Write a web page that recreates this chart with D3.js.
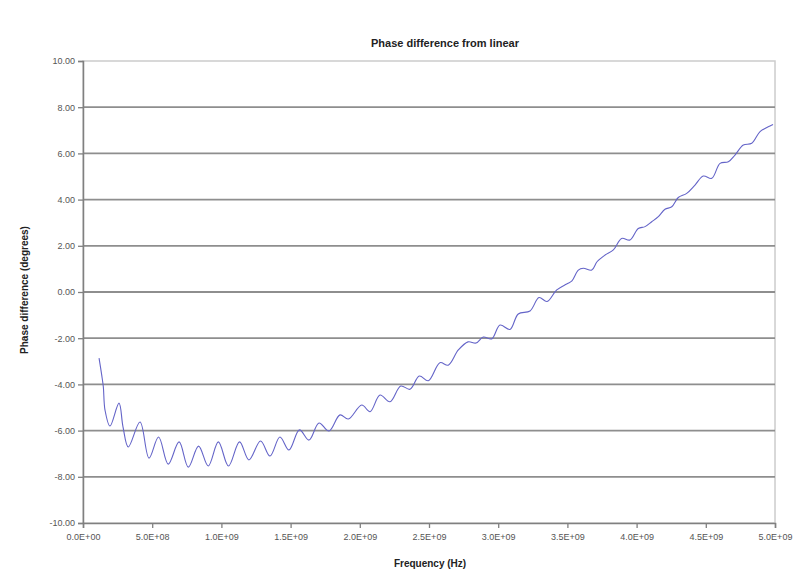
<!DOCTYPE html>
<html>
<head>
<meta charset="utf-8">
<script src="https://cdn.jsdelivr.net/npm/d3@7"></script>
<style>
  html, body { margin: 0; padding: 0; background: #fff; }
  svg { display: block; font-family: "Liberation Sans", Arial, sans-serif; }
</style>
</head>
<body>
<svg id="chart" width="809" height="573"></svg>
<script>
// ---- data (frequency in Hz, phase difference in degrees) ----
const frequency = [
  0.116e9, 0.135e9, 0.147e9, 0.159e9, 0.195e9, 0.260e9, 0.289e9, 0.327e9, 0.412e9, 0.477e9,
  0.546e9, 0.616e9, 0.694e9, 0.761e9, 0.835e9, 0.905e9, 0.978e9, 1.051e9, 1.131e9, 1.199e9,
  1.283e9, 1.351e9, 1.423e9, 1.488e9, 1.564e9, 1.633e9, 1.705e9, 1.777e9, 1.857e9, 1.917e9,
  2.014e9, 2.074e9, 2.146e9, 2.218e9, 2.296e9, 2.363e9, 2.430e9, 2.495e9, 2.579e9, 2.639e9,
  2.712e9, 2.782e9, 2.840e9, 2.892e9, 2.953e9, 3.013e9, 3.085e9, 3.145e9, 3.230e9, 3.295e9,
  3.353e9, 3.423e9, 3.495e9, 3.533e9, 3.579e9, 3.615e9, 3.676e9, 3.714e9, 3.772e9, 3.832e9,
  3.892e9, 3.952e9, 4.012e9, 4.061e9, 4.109e9, 4.157e9, 4.205e9, 4.254e9, 4.301e9, 4.362e9,
  4.422e9, 4.482e9, 4.543e9, 4.603e9, 4.663e9, 4.711e9, 4.771e9, 4.832e9, 4.892e9, 4.964e9,
  4.986e9
];
const phaseDiff = [
  -2.86, -3.59, -4.11, -5.11, -5.80, -4.81, -5.84, -6.71, -5.63, -7.19,
  -6.28, -7.45, -6.49, -7.58, -6.67, -7.53, -6.49, -7.53, -6.49, -7.27,
  -6.45, -7.10, -6.28, -6.84, -5.97, -6.41, -5.67, -6.02, -5.32, -5.50,
  -4.89, -5.18, -4.46, -4.75, -4.07, -4.21, -3.64, -3.84, -3.06, -3.17,
  -2.51, -2.16, -2.21, -1.95, -2.03, -1.43, -1.62, -0.95, -0.82, -0.24,
  -0.41, 0.09, 0.35, 0.48, 0.95, 1.03, 0.95, 1.31, 1.60, 1.82,
  2.32, 2.25, 2.75, 2.83, 3.04, 3.26, 3.58, 3.69, 4.09, 4.27,
  4.63, 5.02, 4.92, 5.57, 5.64, 5.93, 6.36, 6.44, 6.94, 7.19,
  7.25
];
const xTicks = [0, 5e8, 1e9, 1.5e9, 2e9, 2.5e9, 3e9, 3.5e9, 4e9, 4.5e9, 5e9];
const yTicks = [-10, -8, -6, -4, -2, 0, 2, 4, 6, 8, 10];

const titleText = "Phase difference from linear";
const xTitle = "Frequency (Hz)";
const yTitle = "Phase difference (degrees)";

// ---- layout ----
const svg = d3.select("#chart");
const plot = { left: 83, right: 775, top: 61, bottom: 523 };

const x = d3.scaleLinear().domain([0, 5e9]).range([plot.left, plot.right]);
const y = d3.scaleLinear().domain([-10, 10]).range([plot.bottom, plot.top]);

function sciFmt(v) {
  if (v === 0) return "0.0E+00";
  const e = Math.floor(Math.log10(Math.abs(v)) + 1e-9);
  const m = v / Math.pow(10, e);
  return m.toFixed(1) + "E+" + String(e).padStart(2, "0");
}

// plot border (right/top light)
svg.append("rect")
  .attr("x", plot.left).attr("y", plot.top)
  .attr("width", plot.right - plot.left).attr("height", plot.bottom - plot.top)
  .attr("fill", "none").attr("stroke", "#cccccc").attr("stroke-width", 1.5);

// gridlines
svg.append("g").selectAll("line")
  .data(yTicks.filter(d => d !== -10 && d !== 10))
  .join("line")
  .attr("x1", plot.left).attr("x2", plot.right)
  .attr("y1", d => y(d)).attr("y2", d => y(d))
  .attr("stroke", "#8e8e8e").attr("stroke-width", 1.8);

// y axis
const yAxis = svg.append("g")
  .attr("transform", `translate(${plot.left},0)`)
  .call(d3.axisLeft(y).tickValues(yTicks).tickFormat(d => d.toFixed(2)).tickSize(5).tickPadding(3));
yAxis.select(".domain").attr("stroke", "#808080").attr("stroke-width", 1.5);
yAxis.selectAll(".tick line").attr("stroke", "#808080").attr("stroke-width", 1.3);
yAxis.selectAll(".tick text").attr("fill", "#555").style("font-size", "9px");

// x axis
const xAxis = svg.append("g")
  .attr("transform", `translate(0,${plot.bottom})`)
  .call(d3.axisBottom(x).tickValues(xTicks).tickFormat(sciFmt).tickSize(5).tickPadding(6));
xAxis.select(".domain").attr("stroke", "#808080").attr("stroke-width", 1.5);
xAxis.selectAll(".tick line").attr("stroke", "#808080").attr("stroke-width", 1.3);
xAxis.selectAll(".tick text").attr("fill", "#555").style("font-size", "9px");

// line
const pts = frequency.map((f, i) => [f, phaseDiff[i]]);
svg.append("path")
  .datum(pts)
  .attr("fill", "none")
  .attr("stroke", "#6464c8")
  .attr("stroke-width", 1.1)
  .attr("d", d3.line().x(d => x(d[0])).y(d => y(d[1])).curve(d3.curveCatmullRom.alpha(0.5)));

// titles
svg.append("text")
  .attr("x", 445).attr("y", 47)
  .attr("text-anchor", "middle")
  .style("font-size", "11px").style("font-weight", "bold").attr("fill", "#222")
  .text(titleText);

svg.append("text")
  .attr("x", 430).attr("y", 567)
  .attr("text-anchor", "middle")
  .style("font-size", "10px").style("font-weight", "bold").attr("fill", "#222")
  .text(xTitle);

svg.append("text")
  .attr("transform", `translate(28,${(plot.top + plot.bottom) / 2 - 2}) rotate(-90)`)
  .attr("text-anchor", "middle")
  .style("font-size", "10px").style("font-weight", "bold").attr("fill", "#222")
  .text(yTitle);
</script>
</body>
</html>
